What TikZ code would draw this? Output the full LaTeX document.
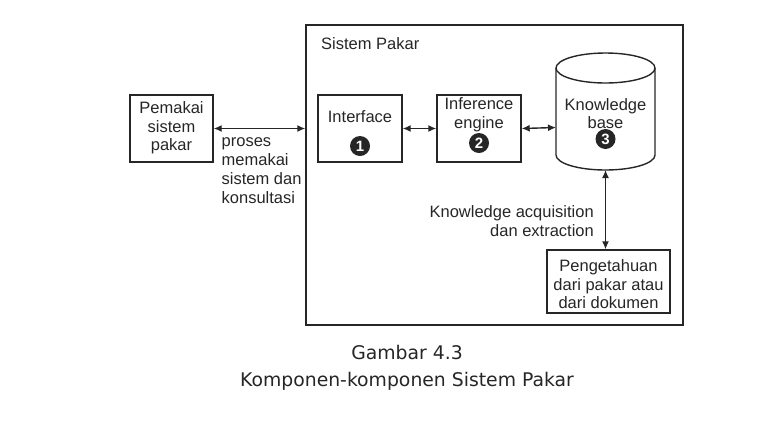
\documentclass[tikz,border=0pt]{standalone}
\usepackage{fontspec}
\setmainfont{Liberation Sans}
\newfontfamily\capfont{DejaVu Sans}
\usetikzlibrary{arrows.meta}
\definecolor{ink}{HTML}{262626}
\tikzset{
  box/.style={draw=ink, line width=1.4pt, inner sep=0pt},
  lbl/.style={text=ink, font=\fontsize{16.5}{18.5}\selectfont, inner sep=0pt, align=center},
  num/.style={circle, fill=ink, text=white, minimum size=20pt, inner sep=0pt, font=\fontsize{15}{15}\selectfont\bfseries},
  conn/.style={draw=ink, line width=1.4pt, {Latex[length=8pt,width=7pt]}-{Latex[length=8pt,width=7pt]}},
}
\begin{document}
\begin{tikzpicture}[x=1pt,y=1pt]
\useasboundingbox (0,0) rectangle (770,-424);
% outer system box
\node[box, minimum width=377pt, minimum height=300pt] (outer) at (494.5,-175) {};
\node[lbl, anchor=west] (sp) at (321,-43.5) {Sistem Pakar};
% user
\node[box, minimum width=83pt, minimum height=67pt] (pem) at (171.5,-128.5) {};
\node[lbl] (pemt) at (171.5,-128) {Pemakai\\sistem\\pakar};
% interface
\node[box, minimum width=84pt, minimum height=67pt] (ifc) at (360,-128.5) {};
\node[lbl] (ifct) at (360,-117) {Interface};
\node[num] (n1) at (360,-146) {1};
% inference engine
\node[box, minimum width=84pt, minimum height=67pt] (inf) at (479,-128.5) {};
\node[lbl] (inft) at (479,-114.5) {Inference\\engine};
\node[num] (n2) at (479,-143) {2};
% knowledge base cylinder
\draw[ink, line width=1.4pt] (605.5,-68) ellipse [x radius=49.5, y radius=15];
\draw[ink, line width=1.4pt] (556,-68) -- (556,-155) arc[start angle=180, end angle=360, x radius=49.5, y radius=15] -- (655,-68);
\coordinate (kbW) at (556,-127.5);
\coordinate (kbS) at (605.5,-170);
\node[lbl] (kbt) at (605.5,-113.5) {Knowledge\\base};
\node[num] (n3) at (605.5,-139) {3};
% knowledge source
\node[box, minimum width=123pt, minimum height=63pt] (src) at (608.5,-281.5) {};
\node[lbl] (srct) at (608.5,-284.5) {Pengetahuan\\dari pakar atau\\dari dokumen};
% connectors
\draw[conn] (pem.east) -- (pem.east -| outer.west);
\draw[conn] (ifc.east) -- (inf.west);
\draw[conn] (inf.east) -- (kbW);
\draw[conn] (kbS) -- (kbS |- src.north);
% labels
\node[lbl, anchor=north west, align=left, font=\fontsize{16.5}{19}\selectfont] (proc) at (221.5,-137.5) {proses\\memakai\\sistem dan\\konsultasi};
\node[lbl, anchor=east, align=right] (acq) at (594,-221) {Knowledge acquisition\\dan extraction};
% caption
\node[text=black!85, font=\capfont\fontsize{18.8}{27}\selectfont, align=center, inner sep=0pt] (cap) at (407,-367.5) {Gambar 4.3\\Komponen-komponen Sistem Pakar};
\end{tikzpicture}
\end{document}
